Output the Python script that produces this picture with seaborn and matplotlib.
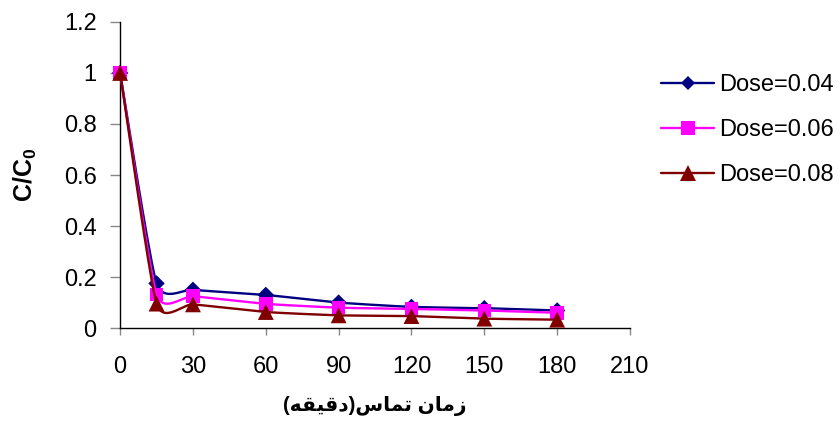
import numpy as np
import pandas as pd
import matplotlib
matplotlib.use("Agg")
import matplotlib.pyplot as plt
from matplotlib.lines import Line2D
import seaborn as sns

# data
time_min = [0, 15, 30, 60, 90, 120, 150, 180]
dose_004 = [1.0, 0.175, 0.150, 0.130, 0.100, 0.083, 0.078, 0.069]
dose_006 = [1.0, 0.132, 0.125, 0.095, 0.080, 0.075, 0.069, 0.060]
dose_008 = [1.0, 0.096, 0.093, 0.063, 0.050, 0.047, 0.037, 0.033]
series_labels = ["Dose=0.04", "Dose=0.06", "Dose=0.08"]
series_colors = ["#000080", "#FF00FF", "#800000"]
series_markers = ["D", "s", "^"]
x_ticks = [0, 30, 60, 90, 120, 150, 180, 210]
y_ticks = [0, 0.2, 0.4, 0.6, 0.8, 1.0, 1.2]
y_tick_labels = ["0", "0.2", "0.4", "0.6", "0.8", "1", "1.2"]

# Persian axis title, written in visual order with presentation forms
# logical text: "زمان تماس(دقيقه)"
x_title = "(\uFEEA\uFED8\uFEF4\uFED7\uFEA9)\uFEB1\uFE8E\uFEE4\uFE97 \uFEE5\uFE8E\uFEE3\uFEAF"


def smooth_curve(xs, ys, k=1 / 11, n=30):
    # Excel-style smoothed line: cubic bezier through each pair of points
    xs = np.asarray(xs, float)
    ys = np.asarray(ys, float)
    pts = np.column_stack([xs, ys])
    out = []
    for i in range(len(pts) - 1):
        p0 = pts[max(i - 1, 0)]
        p1 = pts[i]
        p2 = pts[i + 1]
        p3 = pts[min(i + 2, len(pts) - 1)]
        c1 = p1 + (p2 - p0) * k
        c2 = p2 - (p3 - p1) * k
        t = np.linspace(0, 1, n)[:, None]
        seg = ((1 - t) ** 3) * p1 + 3 * ((1 - t) ** 2) * t * c1 + 3 * (1 - t) * t ** 2 * c2 + t ** 3 * p2
        out.append(seg if i == 0 else seg[1:])
    out = np.vstack(out)
    return pd.DataFrame({"x": out[:, 0], "y": out[:, 1]})


sns.set_style("white")
plt.rcParams["font.family"] = ["Liberation Sans", "DejaVu Sans"]
plt.rcParams["text.color"] = "black"
plt.rcParams["axes.labelcolor"] = "black"
plt.rcParams["xtick.labelcolor"] = "black"
plt.rcParams["ytick.labelcolor"] = "black"
plt.rcParams["mathtext.fontset"] = "custom"
plt.rcParams["mathtext.bf"] = "Liberation Sans:bold"
plt.rcParams["mathtext.rm"] = "Liberation Sans"

fig = plt.figure(figsize=(8.4, 4.3), dpi=100)
ax = fig.add_axes([0.143, 0.237, 0.607, 0.712])

all_series = [dose_004, dose_006, dose_008]
marker_sizes = [70, 95, 130]
handles = []
for i, vals in enumerate(all_series):
    curve = smooth_curve(time_min, vals)
    sns.lineplot(data=curve, x="x", y="y", sort=False, estimator=None,
                 color=series_colors[i], linewidth=1.7, ax=ax, zorder=3 + 2 * i)
    pts = pd.DataFrame({"x": time_min, "y": vals})
    sns.scatterplot(data=pts, x="x", y="y", marker=series_markers[i], s=marker_sizes[i],
                    color=series_colors[i], edgecolor="none", linewidth=0,
                    ax=ax, zorder=4 + 2 * i, clip_on=False)
    handles.append(Line2D([], [], color=series_colors[i], linewidth=1.7,
                          marker=series_markers[i], markersize=[7, 10, 11][i],
                          markeredgewidth=0))

ax.set_xlim(0, 210)
ax.set_ylim(0, 1.2)
ax.set_xticks(x_ticks)
ax.set_yticks(y_ticks)
ax.set_yticklabels(y_tick_labels)
ax.tick_params(axis="y", direction="out", length=7, width=1, color="#888888",
               pad=10, labelsize=17, left=True, labelcolor="black")
ax.tick_params(axis="x", direction="out", length=5, width=1, color="#888888",
               pad=15, labelsize=17, bottom=True, labelcolor="black")
for side in ["top", "right"]:
    ax.spines[side].set_visible(False)
for side in ["left", "bottom"]:
    ax.spines[side].set_color("black")
    ax.spines[side].set_linewidth(1.0)

ax.set_ylabel(r"C/C$_\mathbf{0}$", fontsize=18, fontweight="bold", labelpad=18,
              color="black")
ax.set_xlabel(x_title, fontsize=14.5, fontweight="bold", labelpad=13,
              family=["Liberation Sans", "DejaVu Sans"], color="black")

fig.legend(handles, series_labels, loc="upper left", bbox_to_anchor=(0.787, 0.828),
           frameon=False, fontsize=17, handlelength=2.25, handletextpad=0.2,
           labelspacing=0.98, borderpad=0, borderaxespad=0, labelcolor="black")

fig.savefig("out.png", dpi=100)
